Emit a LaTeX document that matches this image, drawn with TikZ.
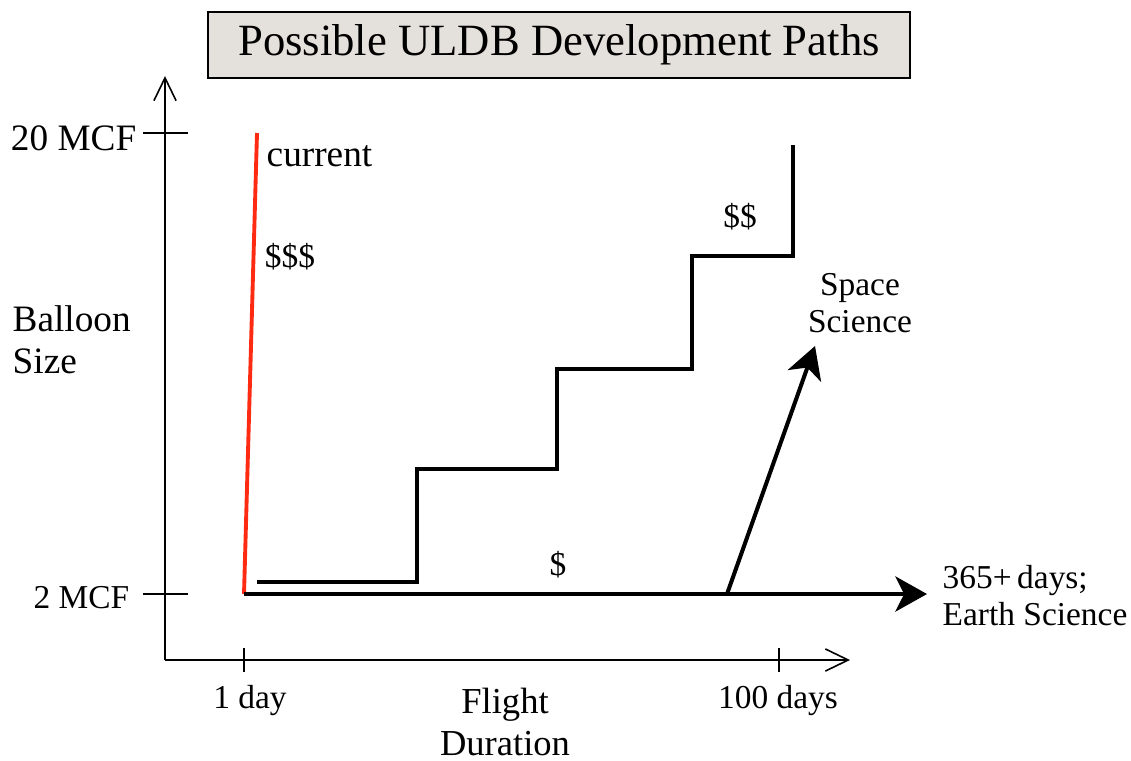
\documentclass[tikz,border=0pt]{standalone}
\usepackage{fontspec}
\setmainfont{Liberation Serif}
\usepackage{xcolor}
\usetikzlibrary{arrows.meta}

\definecolor{titlegrey}{HTML}{E4E0DB}
\definecolor{curred}{HTML}{FF2A12}

\begin{document}
\begin{tikzpicture}[x=0.01cm,y=-0.01cm]
    \tikzstyle{lbl}=[font=\fontsize{10.6}{12}\selectfont,inner sep=0pt]
    \tikzstyle{sml}=[font=\fontsize{9.5}{10.5}\selectfont,inner sep=0pt]
    \tikzstyle{axis}=[line width=0.45pt,-{Straight Barb[length=6.5pt,width=6.3pt]}]
    \tikzstyle{tick}=[line width=0.45pt]
    \tikzstyle{path}=[line width=1.15pt]
    \tikzstyle{big}=[-{Stealth[length=9pt,width=10pt,inset=2.5pt]}]

    \useasboundingbox (0,0) rectangle (1131,760);

    % Title
    \node (title) [draw,fill=titlegrey,line width=0.5pt,minimum width=7.01cm,minimum height=0.66cm,
        font=\fontsize{12.7}{15}\selectfont] at (559,45) {Possible ULDB Development Paths};

    % Draw axes
    \coordinate (origin) at (165,660);
    \coordinate (ytop) at (165,76);
    \coordinate (xend) at (850,660);
    \draw [axis] (origin) -- (ytop);
    \draw [axis] (origin) -- (xend);

    % ticks
    \coordinate (big) at (165,133);
    \coordinate (small) at (165,594);
    \draw [tick] ([xshift=-0.22cm]big) -- ([xshift=0.23cm]big);
    \draw [tick] ([xshift=-0.22cm]small) -- ([xshift=0.23cm]small);
    \coordinate (oneday) at (244,660);
    \coordinate (hundred) at (779,660);
    \draw [tick] ([yshift=-0.12cm]oneday) -- ([yshift=0.12cm]oneday);
    \draw [tick] ([yshift=-0.12cm]hundred) -- ([yshift=0.12cm]hundred);

    % axis labels
    \node (mcf20) [lbl,anchor=east] at (137,138) {20 MCF};
    \node (mcf2) [sml,anchor=east] at (130,598) {2 MCF};
    \node (size) [lbl,align=left,anchor=west] at (12,340) {Balloon\\Size};
    \node (day1) [sml] at (250,700) {1 day};
    \node (day100) [sml] at (778,700) {100 days};
    \node (dur) [lbl,font=\fontsize{10.4}{12.2}\selectfont,align=center] at (505,722) {Flight\\Duration};

    % current path
    \coordinate (start) at (244,594);
    \coordinate (cur) at (257,133);
    \draw [curred,line width=1.1pt] (start) -- (cur);
    \node (current) [lbl,anchor=west] at (266,156) {current};
    \node (d3) [sml] at (290,257) {\$\$\$};

    % stepwise path
    \draw [path] (257,582) -- (417,582) |- (557,469) |- (692,369) |- (793,256) -- (793,145);
    \node (d2) [sml] at (740,217) {\$\$};

    % long duration path
    \coordinate (earth) at (927,594);
    \coordinate (fork) at (727,594);
    \coordinate (space) at (815,346);
    \draw [path,big] (start) -- (earth);
    \draw [path,big] (fork) -- (space);
    \node (d1) [sml] at (558,565) {\$};
    \node (spacesci) [sml,align=center] at (860,303) {Space\\Science};
    \node (earthsci) [sml,align=left,anchor=west] at (942,596) {365+\,days;\\Earth Science};
\end{tikzpicture}
\end{document}
